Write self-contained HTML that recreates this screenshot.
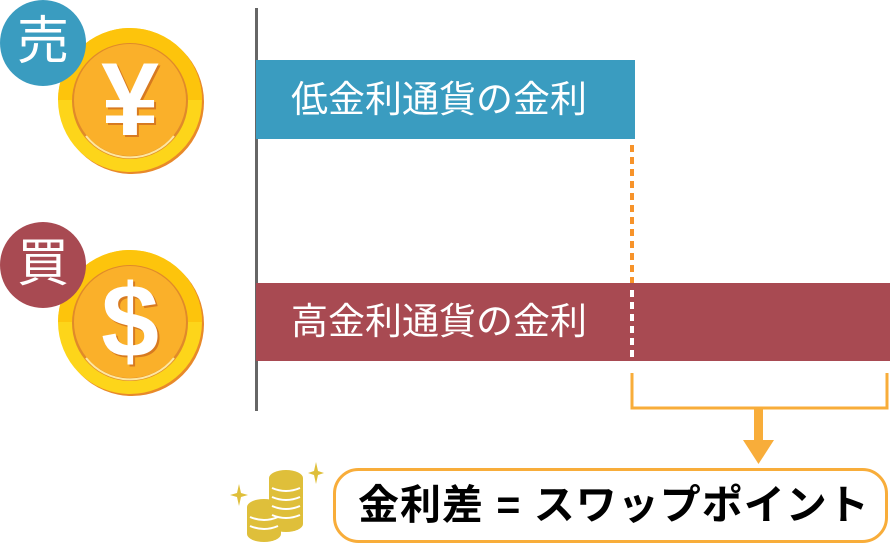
<!DOCTYPE html>
<html><head><meta charset="utf-8"><style>
body{margin:0;width:890px;height:544px;background:#fff;overflow:hidden;position:relative;font-family:"Liberation Sans","Noto Sans CJK JP",sans-serif}
.a{position:absolute}
</style></head><body>
<svg class="a" style="left:0;top:0" width="890" height="544">
<defs>
<g id="coin">
<circle r="72" fill="#e8892a" cx="2" cy="2"/>
<circle r="72" fill="#fdd51a"/>
<path d="M-72 0 A72 72 0 0 1 72 0 Z" fill="#fdc40c"/>
<circle r="58" fill="#e08a2a" cy="1"/>
<circle r="56" fill="#fab02a"/>
<path d="M-44 36 A56 56 0 0 0 44 36" stroke="#fde7a0" stroke-width="2" fill="none"/>
</g>
</defs>
<rect x="255" y="8" width="3" height="403" fill="#666"/>
<rect x="256" y="60" width="379" height="79" fill="#3a9cc0"/>
<rect x="256" y="283" width="634" height="78" fill="#a84a52"/>
<line x1="632" y1="145" x2="632" y2="283" stroke="#f7932a" stroke-width="4" stroke-dasharray="7 5"/>
<line x1="632" y1="290" x2="632" y2="361" stroke="#fff" stroke-width="4" stroke-dasharray="7 5"/>
<path d="M632 373 V408 H887 V373" stroke="#f8ad3a" stroke-width="3" fill="none"/>
<rect x="754" y="408" width="9" height="32" fill="#f8ad3a"/>
<polygon points="743,440 774,440 758.5,464" fill="#f8ad3a"/>
<rect x="334.5" y="469.5" width="552" height="72" rx="24" fill="#fff" stroke="#f8ad3a" stroke-width="3"/>
<g transform="translate(130,100)"><use href="#coin"/></g>
<g transform="translate(130,322)"><use href="#coin"/></g>
<circle cx="43" cy="43" r="43" fill="#3a9cc0"/>
<circle cx="43" cy="265" r="43" fill="#a84a52"/>
<g fill="#dfbf3a">
<ellipse cx="286" cy="478" rx="17" ry="8"/><rect x="269" y="478" width="34" height="46"/><ellipse cx="286" cy="524" rx="17" ry="8"/>
<ellipse cx="264" cy="507" rx="17" ry="8"/><rect x="247" y="507" width="34" height="27"/><ellipse cx="264" cy="534" rx="17" ry="8"/>
</g>
<g stroke="#fff" stroke-width="2" fill="none">
<path d="M272 488 q14 6 28 0 M272 497 q14 6 28 0 M272 506 q14 6 28 0 M272 515 q14 6 28 0"/>
<path d="M250 517 q14 6 28 0 M250 526 q14 6 28 0"/>
</g>
<path d="M239 484 l2 9 l7 2 l-7 2 l-2 9 l-2 -9 l-7 -2 l7 -2z" fill="#dfbf3a"/>
<path d="M316 462 l2 9 l6 2 l-6 2 l-2 9 l-2 -9 l-6 -2 l6 -2z" fill="#dfbf3a"/>
</svg>
<div class="a" style="left:0;top:12px;width:86px;text-align:center;color:#fff;font-size:52px;line-height:60px">売</div>
<div class="a" style="left:0;top:234px;width:86px;text-align:center;color:#fff;font-size:52px;line-height:60px">買</div>
<div class="a" style="left:80px;top:45px;width:100px;text-align:center;color:#fff;font-size:104px;font-weight:bold;line-height:110px;text-shadow:2px 2px 0 #d77a20">¥</div>
<div class="a" style="left:80px;top:267px;width:100px;text-align:center;color:#fff;font-size:104px;font-weight:bold;line-height:110px;text-shadow:2px 2px 0 #d77a20">$</div>
<div class="a" style="left:291px;top:78px;color:#fff;font-size:37px;line-height:44px">低金利通貨の金利</div>
<div class="a" style="left:291px;top:300px;color:#fff;font-size:37px;line-height:44px">高金利通貨の金利</div>
<div class="a" style="left:358px;top:481px;color:#000;font-size:41px;font-weight:bold;line-height:48px;letter-spacing:1px">金利差 = スワップポイント</div>
</body></html>
